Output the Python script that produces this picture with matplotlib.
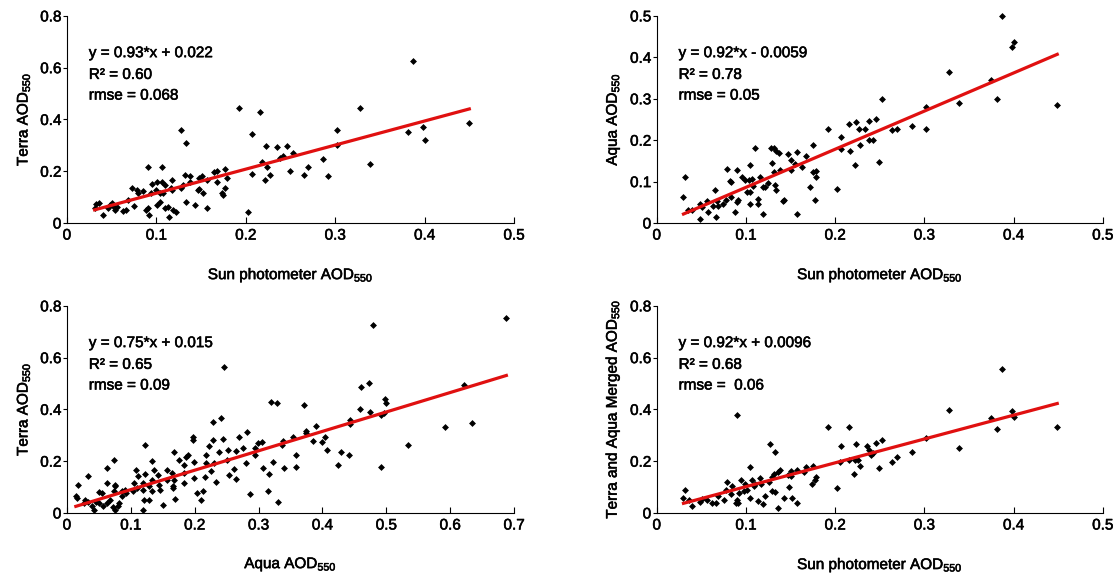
import numpy as np
import matplotlib
matplotlib.use("Agg")
import matplotlib.pyplot as plt
import matplotlib.patheffects as pe

plt.rcParams['font.family'] = ['Liberation Sans', 'DejaVu Sans']
plt.rcParams['mathtext.fontset'] = 'custom'
plt.rcParams['mathtext.rm'] = 'Liberation Sans'
plt.rcParams['mathtext.it'] = 'Liberation Sans:italic'
plt.rcParams['mathtext.bf'] = 'Liberation Sans:bold'

# sun photometer vs Terra
terra_x = [0.387, 0.192, 0.2155, 0.328, 0.128, 0.1335, 0.207, 0.223, 0.235, 0.246,
           0.302, 0.302, 0.382, 0.398, 0.400, 0.450, 0.339, 0.286, 0.292, 0.270,
           0.265, 0.249, 0.253, 0.242, 0.238, 0.218, 0.224, 0.222, 0.227, 0.207,
           0.202, 0.177, 0.179, 0.177, 0.173, 0.175, 0.168, 0.164, 0.168, 0.157,
           0.157, 0.152, 0.148, 0.147, 0.151, 0.148, 0.138, 0.138, 0.132, 0.130,
           0.128, 0.1335, 0.143, 0.118, 0.116, 0.118, 0.119, 0.122, 0.113, 0.110,
           0.114, 0.106, 0.091, 0.095, 0.101, 0.106, 0.110, 0.094, 0.100, 0.104,
           0.107, 0.104, 0.101, 0.091, 0.089, 0.092, 0.073, 0.078, 0.080, 0.085,
           0.068, 0.066, 0.063, 0.075, 0.056, 0.050, 0.051, 0.054, 0.048, 0.036,
           0.033, 0.031, 0.040, 0.046]
terra_y = [0.625, 0.443, 0.428, 0.443, 0.361, 0.308, 0.342, 0.297, 0.292, 0.297,
           0.361, 0.300, 0.353, 0.371, 0.320, 0.387, 0.229, 0.247, 0.180, 0.218,
           0.184, 0.202, 0.270, 0.259, 0.250, 0.235, 0.218, 0.167, 0.186, 0.191,
           0.044, 0.209, 0.173, 0.137, 0.116, 0.108, 0.199, 0.196, 0.160, 0.167,
           0.058, 0.116, 0.132, 0.126, 0.180, 0.173, 0.180, 0.160, 0.184, 0.148,
           0.135, 0.082, 0.071, 0.167, 0.135, 0.128, 0.049, 0.044, 0.062, 0.059,
           0.023, 0.218, 0.218, 0.152, 0.160, 0.160, 0.148, 0.116, 0.128, 0.116,
           0.116, 0.083, 0.071, 0.058, 0.051, 0.032, 0.135, 0.126, 0.116, 0.122,
           0.090, 0.051, 0.045, 0.064, 0.062, 0.077, 0.064, 0.051, 0.071, 0.077,
           0.074, 0.058, 0.032, 0.058]

# sun photometer vs Aqua
aqua_x = [0.387, 0.400, 0.3985, 0.3276, 0.3746, 0.381, 0.339, 0.3015, 0.3015, 0.449,
          0.252, 0.286, 0.264, 0.269, 0.246, 0.238, 0.234, 0.238, 0.243, 0.223,
          0.215, 0.227, 0.228, 0.217, 0.222, 0.207, 0.207, 0.192, 0.202, 0.249,
          0.175, 0.167, 0.163, 0.157, 0.155, 0.151, 0.151, 0.147, 0.137, 0.134,
          0.132, 0.128, 0.129, 0.138, 0.131, 0.133, 0.134, 0.125, 0.119, 0.121,
          0.119, 0.116, 0.110, 0.105, 0.107, 0.103, 0.099, 0.0955, 0.108, 0.104,
          0.1015, 0.1045, 0.113, 0.113, 0.090, 0.0836, 0.082, 0.079, 0.083, 0.078,
          0.0746, 0.091, 0.090, 0.088, 0.143, 0.142, 0.1575, 0.1776, 0.1754, 0.1784,
          0.1784, 0.1716, 0.0657, 0.068, 0.067, 0.069, 0.063, 0.058, 0.0567, 0.051,
          0.0485, 0.048, 0.039, 0.035, 0.032, 0.030]
aqua_y = [0.499, 0.436, 0.424, 0.365, 0.344, 0.299, 0.289, 0.280, 0.228, 0.284,
          0.299, 0.235, 0.224, 0.228, 0.251, 0.247, 0.228, 0.201, 0.201, 0.244,
          0.239, 0.226, 0.188, 0.174, 0.141, 0.207, 0.178, 0.226, 0.083, 0.148,
          0.188, 0.161, 0.136, 0.171, 0.143, 0.152, 0.128, 0.166, 0.170, 0.175,
          0.180, 0.181, 0.144, 0.128, 0.122, 0.091, 0.080, 0.096, 0.088, 0.088,
          0.022, 0.111, 0.181, 0.141, 0.107, 0.104, 0.104, 0.110, 0.090, 0.074,
          0.076, 0.047, 0.059, 0.047, 0.127, 0.098, 0.101, 0.131, 0.063, 0.056,
          0.047, 0.056, 0.050, 0.027, 0.056, 0.052, 0.022, 0.056, 0.122, 0.125,
          0.110, 0.088, 0.079, 0.053, 0.014, 0.040, 0.042, 0.027, 0.053, 0.039,
          0.047, 0.010, 0.032, 0.032, 0.112, 0.063]

# Aqua vs Terra
aqua_terra_x = [0.688, 0.480, 0.246, 0.319, 0.329, 0.3706, 0.460, 0.473, 0.459, 0.474,
                0.498, 0.499, 0.491, 0.496, 0.4426, 0.444, 0.622, 0.592, 0.634, 0.534,
                0.491, 0.442, 0.429, 0.424, 0.390, 0.385, 0.404, 0.399, 0.407, 0.374,
                0.374, 0.359, 0.358, 0.354, 0.339, 0.337, 0.340, 0.323, 0.317, 0.315,
                0.331, 0.305, 0.299, 0.295, 0.294, 0.307, 0.282, 0.270, 0.276, 0.281,
                0.286, 0.265, 0.265, 0.261, 0.252, 0.251, 0.253, 0.244, 0.241, 0.229,
                0.229, 0.238, 0.230, 0.223, 0.218, 0.226, 0.234, 0.217, 0.216, 0.213,
                0.210, 0.203, 0.197, 0.197, 0.199, 0.199, 0.190, 0.186, 0.183, 0.184,
                0.183, 0.168, 0.175, 0.165, 0.168, 0.166, 0.166, 0.169, 0.156, 0.156,
                0.150, 0.143, 0.144, 0.145, 0.136, 0.134, 0.133, 0.133, 0.129, 0.129,
                0.123, 0.122, 0.119, 0.119, 0.120, 0.119, 0.112, 0.110, 0.108, 0.105,
                0.104, 0.093, 0.091, 0.086, 0.082, 0.080, 0.075, 0.074, 0.073, 0.075,
                0.076, 0.062, 0.062, 0.062, 0.055, 0.050, 0.051, 0.046, 0.043, 0.033,
                0.033, 0.028, 0.026, 0.018, 0.014, 0.016, 0.039, 0.068, 0.056, 0.072,
                0.086]
aqua_terra_y = [0.752, 0.727, 0.564, 0.429, 0.424, 0.417, 0.485, 0.501, 0.403, 0.390,
                0.442, 0.424, 0.378, 0.385, 0.360, 0.342, 0.496, 0.331, 0.347, 0.263,
                0.177, 0.223, 0.234, 0.184, 0.336, 0.279, 0.295, 0.275, 0.244, 0.318,
                0.308, 0.223, 0.177, 0.293, 0.276, 0.262, 0.172, 0.198, 0.152, 0.085,
                0.044, 0.275, 0.270, 0.249, 0.223, 0.172, 0.311, 0.295, 0.250, 0.193,
                0.074, 0.131, 0.241, 0.170, 0.244, 0.205, 0.146, 0.285, 0.366, 0.353,
                0.283, 0.234, 0.193, 0.259, 0.225, 0.161, 0.118, 0.193, 0.139, 0.083,
                0.049, 0.077, 0.295, 0.283, 0.195, 0.134, 0.223, 0.218, 0.186, 0.154,
                0.116, 0.234, 0.205, 0.154, 0.128, 0.103, 0.095, 0.054, 0.167, 0.128,
                0.032, 0.148, 0.108, 0.090, 0.167, 0.199, 0.126, 0.085, 0.105, 0.051,
                0.262, 0.152, 0.116, 0.090, 0.051, 0.010, 0.141, 0.095, 0.167, 0.116,
                0.083, 0.077, 0.090, 0.085, 0.039, 0.026, 0.013, 0.085, 0.203, 0.103,
                0.109, 0.175, 0.116, 0.039, 0.077, 0.082, 0.039, 0.044, 0.010, 0.141,
                0.044, 0.051, 0.039, 0.108, 0.064, 0.057, 0.026, 0.051, 0.026, 0.023,
                0.064]

# sun photometer vs Terra and Aqua merged
merged_x = [0.387, 0.328, 0.3985, 0.400, 0.375, 0.381, 0.449, 0.339, 0.3015, 0.286,
            0.269, 0.264, 0.252, 0.246, 0.249, 0.240, 0.238, 0.236, 0.2425, 0.223,
            0.207, 0.215, 0.192, 0.216, 0.222, 0.226, 0.228, 0.221, 0.206, 0.202,
            0.175, 0.178, 0.174, 0.177, 0.167, 0.165, 0.157, 0.157, 0.151, 0.151,
            0.147, 0.148, 0.152, 0.1425, 0.138, 0.136, 0.133, 0.127, 0.131, 0.129,
            0.129, 0.133, 0.136, 0.126, 0.116, 0.117, 0.121, 0.119, 0.113, 0.105,
            0.107, 0.110, 0.109, 0.104, 0.1015, 0.099, 0.098, 0.095, 0.0925, 0.090,
            0.089, 0.091, 0.0896, 0.084, 0.079, 0.078, 0.083, 0.075, 0.069, 0.067,
            0.062, 0.056, 0.051, 0.049, 0.039, 0.036, 0.032, 0.030]
merged_y = [0.557, 0.398, 0.395, 0.372, 0.365, 0.324, 0.331, 0.252, 0.288, 0.236,
            0.218, 0.198, 0.283, 0.270, 0.173, 0.225, 0.244, 0.257, 0.231, 0.267,
            0.257, 0.331, 0.331, 0.205, 0.205, 0.203, 0.180, 0.152, 0.198, 0.098,
            0.180, 0.139, 0.113, 0.128, 0.177, 0.157, 0.164, 0.039, 0.161, 0.141,
            0.148, 0.100, 0.057, 0.057, 0.167, 0.159, 0.236, 0.267, 0.150, 0.139,
            0.085, 0.082, 0.021, 0.118, 0.134, 0.110, 0.064, 0.035, 0.046, 0.177,
            0.126, 0.112, 0.103, 0.058, 0.090, 0.110, 0.083, 0.126, 0.077, 0.378,
            0.039, 0.039, 0.049, 0.105, 0.121, 0.090, 0.072, 0.051, 0.064, 0.039,
            0.039, 0.051, 0.054, 0.044, 0.028, 0.049, 0.090, 0.057]

# regression results printed on each panel
slopes = [0.93, 0.92, 0.75, 0.92]
intercepts = [0.022, -0.0059, 0.015, 0.0096]
eq_texts = ['y = 0.93*x + 0.022', 'y = 0.92*x - 0.0059',
            'y = 0.75*x + 0.015', 'y = 0.92*x + 0.0096']
r2_texts = ['0.60', '0.78', '0.65', '0.68']
rmse_texts = ['0.068', '0.05', '0.09', ' 0.06']

x_labels = ['Sun photometer', 'Sun photometer', 'Aqua', 'Sun photometer']
y_labels = ['Terra', 'Aqua', 'Terra', 'Terra and Aqua Merged']
x_max = [0.5, 0.5, 0.7, 0.5]
y_max = [0.8, 0.5, 0.8, 0.8]

xs = [terra_x, aqua_x, aqua_terra_x, merged_x]
ys = [terra_y, aqua_y, aqua_terra_y, merged_y]

# thin outline to thicken the glyphs a little
heavy = [pe.withStroke(linewidth=0.4, foreground='black')]

fig = plt.figure(figsize=(11.15, 5.77), dpi=100)
rects = [[0.060, 0.6135, 0.401, 0.359],
         [0.589, 0.6135, 0.400, 0.359],
         [0.060, 0.111, 0.401, 0.359],
         [0.589, 0.111, 0.400, 0.359]]

for i in range(4):
    ax = fig.add_axes(rects[i])
    x = np.array(xs[i])
    y = np.array(ys[i])
    ax.plot(x, y, 'D', color='black', markersize=3.0, markeredgewidth=0.5,
            zorder=2, clip_on=False)

    line_x = np.array([x.min(), x.max()])
    ax.plot(line_x, slopes[i] * line_x + intercepts[i], color='#e01010',
            linewidth=2.3, zorder=3)

    ax.set_xlim(0, x_max[i])
    ax.set_ylim(0, y_max[i])
    ax.set_xticks(np.round(np.arange(0, x_max[i] + 0.01, 0.1), 1))
    ax.set_yticks(np.round(np.arange(0, y_max[i] + 0.01, 0.2 if y_max[i] > 0.5 else 0.1), 1))
    ax.set_xticklabels([f'{t:g}' for t in ax.get_xticks()])
    ax.set_yticklabels([f'{t:g}' for t in ax.get_yticks()])

    ax.spines['top'].set_visible(False)
    ax.spines['right'].set_visible(False)
    ax.spines['left'].set_linewidth(0.8)
    ax.spines['bottom'].set_linewidth(0.8)
    ax.tick_params(axis='x', direction='in', length=4, width=0.8, pad=4, labelsize=11)
    ax.tick_params(axis='y', direction='out', length=3, width=0.8, pad=1, labelsize=11)
    for lab in ax.get_xticklabels() + ax.get_yticklabels():
        lab.set_path_effects(heavy)

    xl = ax.set_xlabel(x_labels[i] + r' AOD$_{\mathregular{550}}$', fontsize=11, labelpad=17)
    yl = ax.set_ylabel(y_labels[i] + r' AOD$_{\mathregular{550}}$', fontsize=11, labelpad=6)
    xl.set_path_effects(heavy)
    yl.set_path_effects(heavy)

    for ty, s in zip([0.82, 0.715, 0.615],
                     [eq_texts[i], 'R\u00b2 = ' + r2_texts[i], 'rmse = ' + rmse_texts[i]]):
        ax.text(0.049, ty, s, transform=ax.transAxes, fontsize=11, va='center',
                path_effects=heavy)

fig.savefig('out.png', dpi=100)
